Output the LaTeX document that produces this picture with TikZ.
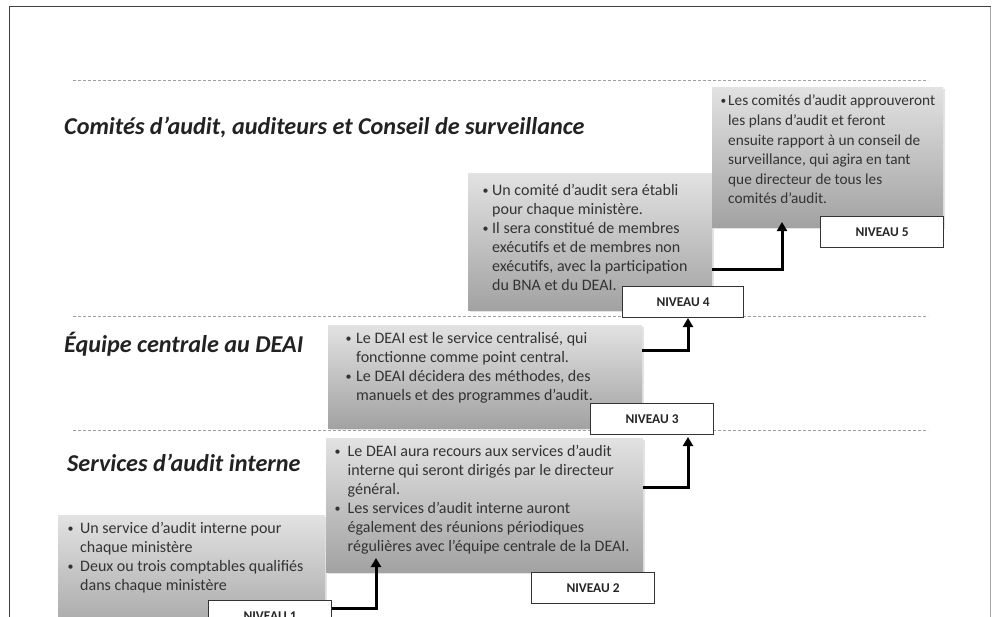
\documentclass[tikz,border=0pt]{standalone}
\usepackage{fontspec}
\usepackage{graphicx}
\setmainfont{Carlito}
\usetikzlibrary{arrows.meta,shadows,calc}
\definecolor{boxtop}{HTML}{E2E2E2}
\definecolor{boxbot}{HTML}{A2A2A2}
\definecolor{txtc}{HTML}{333333}
\definecolor{titc}{HTML}{222222}
\newcommand\bl[2]{\makebox[#1][l]{\raisebox{0.08em}{\scalebox{0.75}{•}}}#2}
\newcommand\cl[2]{\hspace*{#1}#2}
\begin{document}
\begin{tikzpicture}[x=1pt,y=-1pt,
  dline/.style={draw=gray!75, line width=1pt, dash pattern=on 3pt off 2pt},
  box/.style={rectangle, inner sep=0pt, anchor=north west, top color=boxtop, bottom color=boxbot, draw=none,
    drop shadow={opacity=0.22, shadow xshift=2pt, shadow yshift=-2pt}},
  txt/.style={anchor=north west, inner sep=0pt, align=left, text=txtc, font=\fontsize{16}{19}\selectfont},
  lvl/.style={rectangle, anchor=north west, inner sep=0pt, fill=white, draw=black!80, line width=1.2pt,
    font=\fontsize{13.4}{15}\selectfont\bfseries, text=black!85, minimum width=123pt, minimum height=31pt},
  ttl/.style={anchor=base west, inner sep=0pt, text=titc, font=\fontsize{24.2}{28}\selectfont\bfseries\itshape},
  arr/.style={draw=black, line width=3pt, line join=miter, -{Triangle[width=10pt,length=9pt]}}]
\useasboundingbox (0,0) rectangle (992,616);
\clip (0,0) rectangle (992,616);
\fill[white] (0,0) rectangle (992,616);
% frame
\draw[draw=black!75, line width=1.5pt] (9.5,640) -- (9.5,6.5) -- (990.5,6.5);
\draw[draw=black!35, line width=1.5pt] (990.5,6.5) -- (990.5,640);
% dashed separators
\draw[dline] (73,80) -- (928,80);
\draw[dline] (73,316) -- (928,316);
\draw[dline] (73,430) -- (928,430);
% titles
\node[ttl] (h3) at (64,134) {Comités d’audit, auditeurs et Conseil de surveillance};
\node[ttl] (h2) at (64,352) {Équipe centrale au DEAI};
\node[ttl] (h1) at (67,471) {Services d’audit interne};
% boxes
\node[box, minimum width=267pt, minimum height=125pt] (b1) at (58,515) {};
\node[box, minimum width=317pt, minimum height=134pt] (b2) at (326,438) {};
\node[box, minimum width=314pt, minimum height=103pt] (b3) at (328,325) {};
\node[box, minimum width=244pt, minimum height=137pt] (b4) at (468,173) {};
\node[box, minimum width=231pt, minimum height=140pt] (b5) at (712,87) {};
% texts
\node[txt] (t1) at (67.5,520) {\strut\bl{12.5pt}{Un service d’audit interne pour}\\
  \cl{12.5pt}{chaque ministère}\\
  \bl{12.5pt}{Deux ou trois comptables qualifiés}\\
  \cl{12.5pt}{dans chaque ministère}};
\node[txt] (t2) at (334.5,443) {\strut\bl{13pt}{Le DEAI aura recours aux services d’audit}\\
  \cl{13pt}{interne qui seront dirigés par le directeur}\\
  \cl{13pt}{général.}\\
  \bl{13pt}{Les services d’audit interne auront}\\
  \cl{13pt}{également des réunions périodiques}\\
  \cl{13pt}{régulières avec l’équipe centrale de la DEAI.}};
\node[txt] (t3) at (345.5,330) {\strut\bl{10.5pt}{Le DEAI est le service centralisé, qui}\\
  \cl{10.5pt}{fonctionne comme point central.}\\
  \bl{10.5pt}{Le DEAI décidera des méthodes, des}\\
  \cl{10.5pt}{manuels et des programmes d’audit.}};
\node[txt] (t4) at (482.5,182) {\strut\bl{9.5pt}{Un comité d’audit sera établi}\\
  \cl{9.5pt}{pour chaque ministère.}\\
  \bl{9.5pt}{Il sera constitué de membres}\\
  \cl{9.5pt}{exécutifs et de membres non}\\
  \cl{9.5pt}{exécutifs, avec la participation}\\
  \cl{9.5pt}{du BNA et du DEAI.}};
\node[txt, font=\fontsize{15.3}{19.6}\selectfont] (t5) at (720.5,92) {\strut\bl{7.5pt}{Les comités d’audit approuveront}\\
  \cl{7.5pt}{les plans d’audit et feront}\\
  \cl{7.5pt}{ensuite rapport à un conseil de}\\
  \cl{7.5pt}{surveillance, qui agira en tant}\\
  \cl{7.5pt}{que directeur de tous les}\\
  \cl{7.5pt}{comités d’audit.}};
% level labels
\node[lvl] (n1) at (208,600) {NIVEAU 1};
\node[lvl] (n2) at (531,572) {NIVEAU 2};
\node[lvl] (n3) at (590,403) {NIVEAU 3};
\node[lvl, minimum width=121pt] (n4) at (622,286) {NIVEAU 4};
\node[lvl] (n5) at (820,216) {NIVEAU 5};
% arrow targets
\coordinate (c2) at (376,558);
\coordinate (c3) at (688,437);
\coordinate (c4) at (688,318);
\coordinate (c5) at (782,222);
% arrows
\draw[arr] ($(n1.north east)+(0,8)$) -| (c2);
\draw[arr] ($(b2.north east)+(0,49)$) -| (c3);
\draw[arr] ($(b3.north east)+(0,25)$) -| (c4);
\draw[arr] ($(b4.north east)+(0,96)$) -| (c5);
\end{tikzpicture}
\end{document}
